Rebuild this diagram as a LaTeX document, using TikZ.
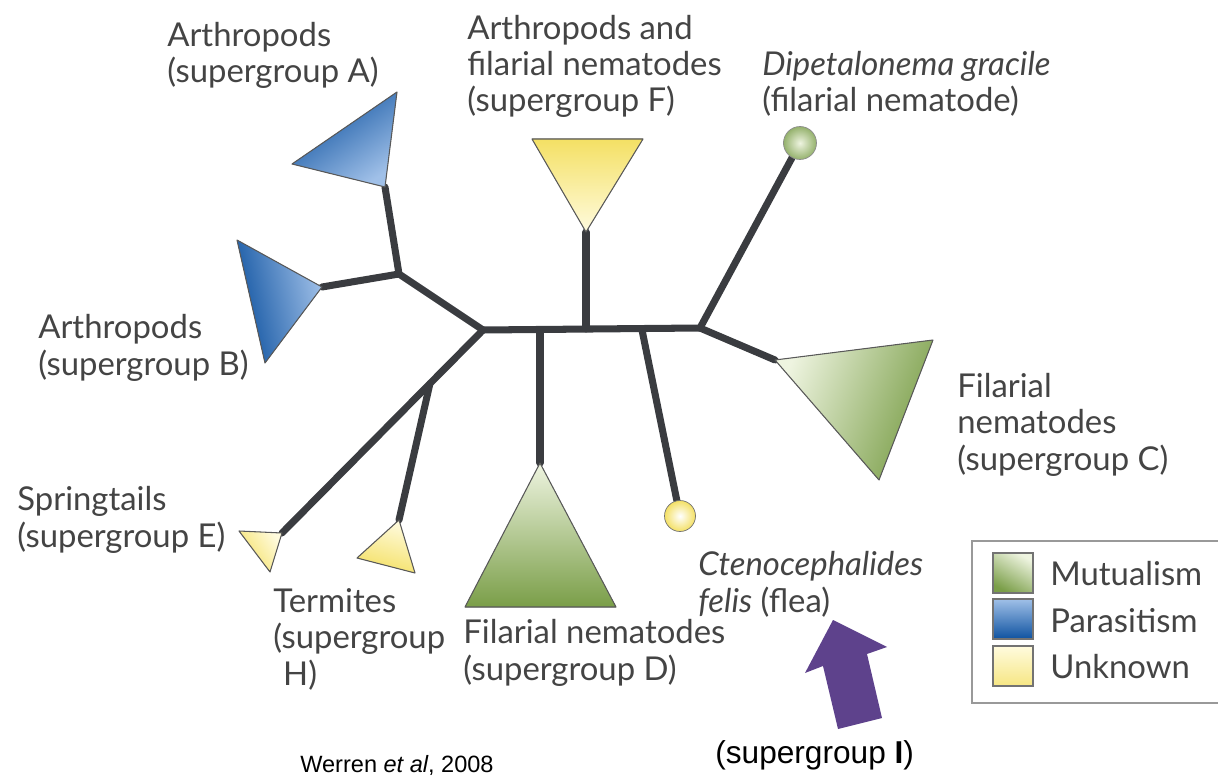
\documentclass[tikz,border=0pt]{standalone}
\usepackage{fontspec}
\setmainfont{Lato}
\newfontfamily\arialfont{Liberation Sans}
\usepackage{tikz}
\usetikzlibrary{shapes,arrows.meta,positioning,calc,backgrounds}
\definecolor{branchGray}{RGB}{58,60,64}
\definecolor{labelGray}{RGB}{68,68,68}
\definecolor{mutDark}{RGB}{122,158,72}
\definecolor{mutLight}{RGB}{238,244,224}
\definecolor{parDark}{RGB}{14,82,160}
\definecolor{parLight}{RGB}{160,192,232}
\definecolor{unkDark}{RGB}{244,224,100}
\definecolor{unkLight}{RGB}{255,251,222}
\definecolor{arrowPurple}{RGB}{94,66,140}

\tikzset{
  branch/.style={draw=branchGray, line width=4pt, line cap=round, line join=round},
  clade/.style={draw=black!65, line width=0.6pt, line join=round},
  % multi-line labels hang from the baseline of their last line
  lbl/.style={font=\fontsize{18.7}{20.6}\selectfont, text=labelGray, align=left,
              anchor=base west, inner sep=0pt},
  swatch/.style={draw=black!55, line width=0.6pt, minimum size=0.8cm, inner sep=0pt}
}

\begin{document}
\begin{tikzpicture}[x=0.02cm, y=-0.02cm]
  \useasboundingbox (0,0) rectangle (1218,784);

  % Junctions and tips of the tree
  \coordinate (hubL) at (483,330);
  \coordinate (hubR) at (700,328);
  \coordinate (jD) at (540,330);
  \coordinate (jF) at (586,329);
  \coordinate (jFlea) at (642,330);
  \coordinate (jAB) at (399,274);
  \coordinate (Atip) at (385,187);
  \coordinate (Btip) at (322,287);
  \coordinate (Ftip) at (586,232);
  \coordinate (Dtip) at (540,463);
  \coordinate (Ctip) at (775,360);
  \coordinate (Etip) at (282,533);
  \coordinate (Htip) at (399,520);
  \coordinate (jH) at ($(hubL)!0.264!(Etip)$);

  % Single taxa
  \node[circle, minimum size=0.66cm, inner sep=0pt, draw=black!45,
        inner color=mutLight, outer color=mutDark!80] (dip) at (800,143) {};
  \node[circle, minimum size=0.62cm, inner sep=0pt, draw=black!55,
        inner color=white, outer color=unkDark] (flea) at (680,516) {};

  % Branches
  \begin{scope}[on background layer]
    \draw[branch] (hubL) -- (hubR);
    \draw[branch] (hubL) -- (jAB) -- (Atip);
    \draw[branch] (jAB) -- (Btip);
    \draw[branch] (hubL) -- (Etip);
    \draw[branch] (jH) -- (Htip);
    \draw[branch] (jD) -- (Dtip);
    \draw[branch] (jF) -- (Ftip);
    \draw[branch] (jFlea) -- (flea);
    \draw[branch] (hubR) -- (dip);
    \draw[branch] (hubR) -- (Ctip);
  \end{scope}

  % Clades
  \filldraw[clade, top color=parLight, bottom color=parDark, shading angle=-145]
    (397,92) -- (292,164) -- (Atip) -- cycle;
  \filldraw[clade, top color=parLight, bottom color=parDark, shading angle=-78]
    (237,240) -- (265,363) -- (Btip) -- cycle;
  \filldraw[clade, top color=unkLight, bottom color=unkDark, shading angle=180]
    (532,139) -- (643,139) -- (Ftip) -- cycle;
  \filldraw[clade, top color=mutLight, bottom color=mutDark, shading angle=69]
    (933,340) -- (879,480) -- (Ctip) -- cycle;
  \filldraw[clade, top color=mutLight, bottom color=mutDark, shading angle=0]
    (465,607) -- (616,607) -- (Dtip) -- cycle;
  \filldraw[clade, top color=unkLight, bottom color=unkDark, shading angle=-56]
    (239,531) -- (270,572) -- (Etip) -- cycle;
  \filldraw[clade, top color=unkLight, bottom color=unkDark, shading angle=-15]
    (357,558) -- (415,573) -- (Htip) -- cycle;

  % Labels
  \node[lbl] (labA) at (167,83) {Arthropods\\(supergroup A)};
  \node[lbl] (labB) at (38,375) {Arthropods\\(supergroup B)};
  \node[lbl] (labF) at (467,112) {Arthropods and\\filarial nematodes\\(supergroup F)};
  \node[lbl] (labDip) at (762,112) {\textit{Dipetalonema gracile}\\(filarial nematode)};
  \node[lbl] (labC) at (957,470) {Filarial\\nematodes\\(supergroup C)};
  \node[lbl] (labE) at (17,547) {Springtails\\(supergroup E)};
  \node[lbl] (labH) at (273,685) {Termites\\(supergroup\\\hspace{0.3em}H)};
  \node[lbl] (labD) at (463,680) {Filarial nematodes\\(supergroup D)};
  \node[lbl] (labFlea) at (698,612) {\textit{Ctenocephalides}\\\textit{felis} (flea)};

  % Legend
  \draw[black!40, line width=1pt] (1230,541) -- (972,541) -- (972,703) -- (1230,703);
  \node[swatch, top color=mutLight, bottom color=mutDark, shading angle=-30] (swMut) at (1013,573) {};
  \node[swatch, top color=parLight, bottom color=parDark] (swPar) at (1013,619) {};
  \node[swatch, top color=unkLight, bottom color=unkDark!80] (swUnk) at (1013,666) {};
  \node[lbl] (tMut) at (1050,585) {Mutualism};
  \node[lbl] (tPar) at (1050,632) {Parasitism};
  \node[lbl] (tUnk) at (1050,678) {Unknown};

  % Pointer to supergroup I
  \fill[arrowPurple] (833,620) -- (887,647) -- (867,654) -- (882,718)
    -- (838,729) -- (823,666) -- (805,673) -- cycle;
  \node[font=\arialfont\fontsize{18}{20}\selectfont, anchor=base west, inner sep=0pt]
    (supI) at (715,763) {(supergroup \textbf{I})};
  \node[font=\arialfont\fontsize{13.4}{16}\selectfont, anchor=base west, inner sep=0pt]
    (cite) at (300,772) {Werren \textit{et al}, 2008};
\end{tikzpicture}
\end{document}
